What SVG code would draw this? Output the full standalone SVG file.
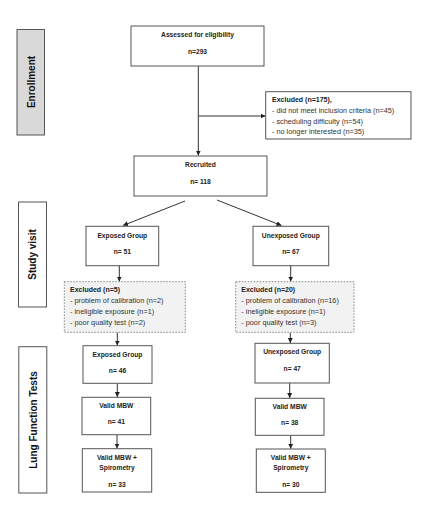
<svg xmlns="http://www.w3.org/2000/svg" width="425" height="527" viewBox="0 0 425 527">
<defs>
<style>
.box{fill:#fff;stroke:#555;stroke-width:1}
.sec{stroke:#555;stroke-width:1}
.exc{fill:#f2f2f2;stroke:#777;stroke-width:0.9;stroke-dasharray:1.5,1.5}
.t{font-family:"Liberation Sans",Arial,sans-serif;font-size:7.3px;fill:#333}
.b{font-weight:bold;font-size:6.7px;fill:#222}
.h{font-weight:bold;font-size:7px;fill:#222}
.c{text-anchor:middle}
.s{font-family:"Liberation Sans",Arial,sans-serif;font-size:10px;font-weight:bold;fill:#111;text-anchor:middle}
.ln{stroke:#333;stroke-width:1;fill:none}
</style>
<marker id="ah" markerWidth="6" markerHeight="6" refX="5" refY="3" orient="auto" markerUnits="userSpaceOnUse">
<path d="M0,0.5 L5,3 L0,5.5 z" fill="#222"/>
</marker>
</defs>
<rect width="425" height="527" fill="#fff"/>

<g id="sections">
<g id="sec-enrollment"><rect class="sec" x="17" y="29.5" width="27.5" height="105.5" fill="#d9d9d9"/>
<text class="s" transform="translate(34.5,82) rotate(-90)">Enrollment</text></g>
<g id="sec-study"><rect class="sec" x="18.5" y="202" width="28" height="105" fill="#fff"/>
<text class="s" transform="translate(36,254.5) rotate(-90)">Study visit</text></g>
<g id="sec-lung"><rect class="sec" x="18.8" y="346.7" width="28" height="146.3" fill="#fff"/>
<text class="s" transform="translate(36.5,420) rotate(-90)">Lung Function Tests</text></g>
</g>

<g id="connectors">
<line class="ln" x1="198.3" y1="66" x2="198.3" y2="155.5" marker-end="url(#ah)"/>
<line class="ln" x1="198.3" y1="116" x2="265.5" y2="116" marker-end="url(#ah)"/>
<line class="ln" x1="185" y1="201" x2="123" y2="225.5" marker-end="url(#ah)"/>
<line class="ln" x1="217" y1="200" x2="281.5" y2="225.5" marker-end="url(#ah)"/>
<line class="ln" x1="119.3" y1="266" x2="119.3" y2="281.5" marker-end="url(#ah)"/>
<line class="ln" x1="290.7" y1="266" x2="290.7" y2="281.5" marker-end="url(#ah)"/>
<line class="ln" x1="117.3" y1="332.5" x2="117.3" y2="345.5" marker-end="url(#ah)"/>
<line class="ln" x1="290.3" y1="332.5" x2="290.3" y2="343" marker-end="url(#ah)"/>
<line class="ln" x1="117.3" y1="383.5" x2="117.3" y2="397" marker-end="url(#ah)"/>
<line class="ln" x1="289.7" y1="383" x2="289.7" y2="398" marker-end="url(#ah)"/>
<line class="ln" x1="117" y1="435" x2="117" y2="448.5" marker-end="url(#ah)"/>
<line class="ln" x1="290.7" y1="435.5" x2="290.7" y2="448.8" marker-end="url(#ah)"/>
</g>

<g id="assessed"><rect class="box" x="131" y="26" width="133" height="40"/>
<text class="t b c" x="197.5" y="37.3">Assessed for eligibility</text>
<text class="t b c" x="197.5" y="54">n=293</text></g>

<g id="excluded-175"><rect class="box" x="265.7" y="91.7" width="145.3" height="47.3"/>
<text class="t h" x="272" y="102.3">Excluded (n=175),</text>
<text class="t" x="272" y="113">- did not meet inclusion criteria (n=45)</text>
<text class="t" x="272" y="123.6">- scheduling difficulty (n=54)</text>
<text class="t" x="272" y="134.3">- no longer interested (n=35)</text></g>

<g id="recruited"><rect class="box" x="134" y="156" width="133" height="40"/>
<text class="t b c" x="200.5" y="167">Recruited</text>
<text class="t b c" x="200.5" y="183.5">n= 118</text></g>

<g id="exposed-51"><rect class="box" x="86" y="226.3" width="72.7" height="39.4"/>
<text class="t b c" x="122.3" y="237.6">Exposed Group</text>
<text class="t b c" x="122.3" y="254">n= 51</text></g>

<g id="unexposed-67"><rect class="box" x="253" y="226.3" width="75.7" height="39.4"/>
<text class="t b c" x="290.8" y="237.6">Unexposed Group</text>
<text class="t b c" x="290.8" y="254">n= 67</text></g>

<g id="excluded-5"><rect class="exc" x="64.3" y="281.7" width="121" height="50.6"/>
<text class="t h" x="70" y="292">Excluded (n=5)</text>
<text class="t" x="70" y="303">- problem of calibration (n=2)</text>
<text class="t" x="70" y="314">- ineligible exposure (n=1)</text>
<text class="t" x="70" y="324.6">- poor quality test (n=2)</text></g>

<g id="excluded-20"><rect class="exc" x="235.7" y="281.7" width="118.3" height="50.6"/>
<text class="t h" x="241.3" y="292">Excluded (n=20)</text>
<text class="t" x="241.3" y="303">- problem of calibration (n=16)</text>
<text class="t" x="241.3" y="314">- ineligible exposure (n=1)</text>
<text class="t" x="241.3" y="324.6">- poor quality test (n=3)</text></g>

<g id="exposed-46"><rect class="box" x="83" y="345.7" width="69" height="37.6"/>
<text class="t b c" x="117.5" y="357">Exposed Group</text>
<text class="t b c" x="117.5" y="373.3">n= 46</text></g>

<g id="unexposed-47"><rect class="box" x="255" y="343.3" width="74.3" height="39.7"/>
<text class="t b c" x="292.2" y="354.3">Unexposed Group</text>
<text class="t b c" x="292.2" y="370.6">n= 47</text></g>

<g id="mbw-41"><rect class="box" x="82" y="397.3" width="68.7" height="37.4"/>
<text class="t b c" x="116.3" y="408">Valid MBW</text>
<text class="t b c" x="116.3" y="424.3">n= 41</text></g>

<g id="mbw-38"><rect class="box" x="255.3" y="398.3" width="68.7" height="37"/>
<text class="t b c" x="289.7" y="409">Valid MBW</text>
<text class="t b c" x="289.7" y="425.3">n= 38</text></g>

<g id="spiro-33"><rect class="box" x="82.3" y="448.7" width="69.4" height="43.3"/>
<text class="t b c" x="117" y="459.6">Valid MBW +</text>
<text class="t b c" x="117" y="470.3">Spirometry</text>
<text class="t b c" x="117" y="487">n= 33</text></g>

<g id="spiro-30"><rect class="box" x="256.3" y="449" width="69" height="43.3"/>
<text class="t b c" x="290.8" y="459.6">Valid MBW +</text>
<text class="t b c" x="290.8" y="470.3">Spirometry</text>
<text class="t b c" x="290.8" y="487">n= 30</text></g>
</svg>
